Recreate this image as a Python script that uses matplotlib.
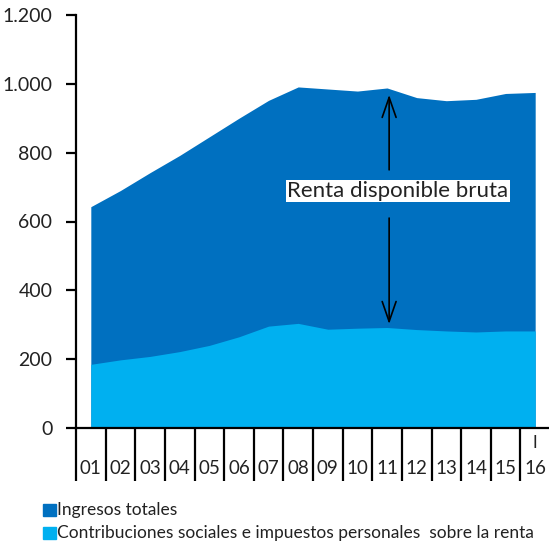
import matplotlib
matplotlib.use("Agg")
import matplotlib.pyplot as plt
from matplotlib.patches import Rectangle
from matplotlib.transforms import blended_transform_factory

plt.rcParams['font.family'] = ['Lato', 'DejaVu Sans']

categories = ["01", "02", "03", "04", "05", "06", "07", "08", "09", "10",
              "11", "12", "13", "14", "15", "16"]
ingresos_totales = [643, 690, 742, 792, 846, 900, 952, 991, 985, 979,
                    988, 960, 951, 955, 972, 975]
contribuciones = [185, 198, 208, 222, 240, 265, 296, 304, 287, 290,
                  292, 286, 282, 279, 282, 282]
yticks = [0, 200, 400, 600, 800, 1000, 1200]
ytick_labels = ["0", "200", "400", "600", "800", "1.000", "1.200"]
legend_labels = ["Ingresos totales",
                 "Contribuciones sociales e impuestos personales  sobre la renta"]

dark = "#0070C0"
light = "#00B0F0"
txt = "#222222"

W, H = 549, 546
fig = plt.figure(figsize=(W / 100, H / 100), dpi=100)
ax = fig.add_axes([76 / W, (H - 428) / H, 474 / W, 413 / H])

x = list(range(1, len(categories) + 1))
ax.fill_between(x, 0, ingresos_totales, color=dark, linewidth=0)
ax.fill_between(x, 0, contribuciones, color=light, linewidth=0)

ax.set_xlim(0.5, 16.5)
ax.set_ylim(0, 1200)
for s in ["top", "right"]:
    ax.spines[s].set_visible(False)
ax.spines["left"].set_linewidth(1.6)
ax.spines["bottom"].set_linewidth(1.6)
ax.set_yticks(yticks)
ax.set_yticklabels(ytick_labels, fontsize=14, color=txt)
ax.tick_params(axis="y", length=7, width=1.6, pad=10)
ax.set_xticks([])

tr = blended_transform_factory(ax.transData, ax.transAxes)
for i in range(len(categories)):
    sx = i + 0.5
    ax.plot([sx, sx], [0, -0.128], transform=tr, color="black", lw=1.6,
            clip_on=False, solid_capstyle="butt")
    ax.text(i + 1, -0.099, categories[i], transform=tr, ha="center",
            va="center", fontsize=13.5, color=txt)
ax.text(16, -0.036, "I", transform=tr, ha="center", va="center",
        fontsize=12, color=txt)

# annotation
astyle = "->, head_length=0.72, head_width=0.25"
ax.annotate("", xy=(11.07, 968), xytext=(11.07, 750),
            arrowprops=dict(arrowstyle=astyle, color="black", lw=1.2,
                            mutation_scale=20, shrinkA=0, shrinkB=0))
ax.annotate("", xy=(11.07, 302), xytext=(11.07, 610),
            arrowprops=dict(arrowstyle=astyle, color="black", lw=1.2,
                            mutation_scale=20, shrinkA=0, shrinkB=0))
ax.text(7.63, 689, "Renta disponible bruta", ha="left", va="center",
        fontsize=16, color=txt,
        bbox=dict(facecolor="white", edgecolor="none", pad=1.0))

# legend
colors = [dark, light]
ys = [510, 533]
for lbl, c, yy in zip(legend_labels, colors, ys):
    fig.patches.append(Rectangle((43 / W, (H - yy - 6) / H), 13 / W, 12 / H,
                                 transform=fig.transFigure, color=c))
    fig.text(57 / W, (H - yy) / H, lbl, ha="left", va="center",
             fontsize=12.5, color=txt)

fig.savefig("out.png", dpi=100)
